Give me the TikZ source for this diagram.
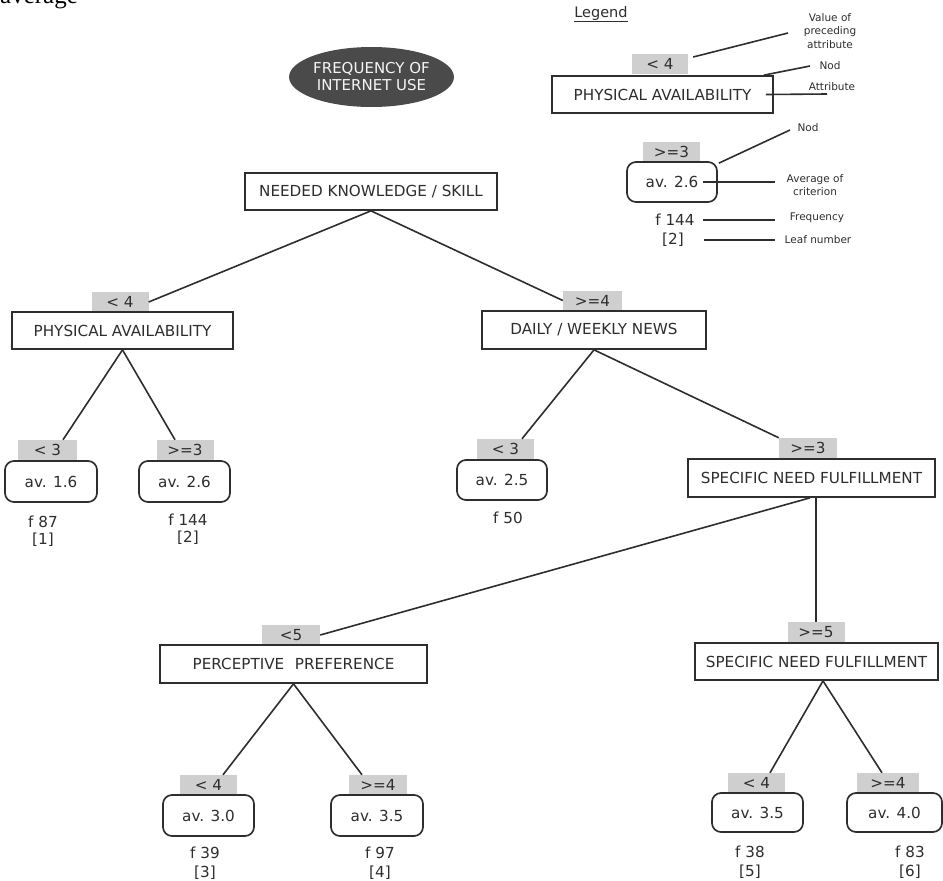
\documentclass[tikz,border=0pt]{standalone}
\usepackage{fontspec}
\setmainfont{DejaVu Sans}
\newfontfamily\serifav{Liberation Serif}
\usetikzlibrary{shapes.geometric}
\definecolor{ink}{HTML}{2E2E2E}
\definecolor{condgray}{HTML}{CFCFCF}
\definecolor{rootfill}{HTML}{4A4A4A}
\begin{document}
\begin{tikzpicture}[x=1pt,y=-1pt,
  every node/.style={font=\fontsize{15.2}{17}\selectfont, text=ink},
  attr/.style={draw=ink, line width=1.7pt, rectangle, minimum height=37pt, inner sep=0pt},
  leafbox/.style={draw=ink, line width=1.7pt, rounded corners=9pt, minimum width=91pt, minimum height=41pt, inner sep=0pt},
  cond/.style={fill=condgray, minimum width=57pt, minimum height=20pt, inner sep=0pt},
  info/.style={inner sep=0pt},
  small/.style={font=\fontsize{10.5}{13.5}\selectfont, align=center, inner sep=0pt},
  edge/.style={draw=ink, line width=1.6pt}]
\useasboundingbox (0,0) rectangle (943,881);
\fill[white] (0,0) rectangle (943,881);

% cut-off caption text at top
\node[anchor=base west, inner sep=0pt, font=\serifav\fontsize{25}{28}\selectfont, text=black] (avg) at (0,3.5) {average};

% root
\node[ellipse, fill=rootfill, minimum width=163pt, minimum height=60pt, inner sep=0pt, align=center,
      text=white!92!gray, font=\fontsize{15}{17}\selectfont] (root) at (371.5,77) {FREQUENCY OF\\INTERNET USE};

% level 1
\node[attr, minimum width=252pt] (nks) at (371,191.5) {NEEDED KNOWLEDGE / SKILL};

\node[cond] (c1) at (120,302) {< 4};
\node[attr, minimum width=221pt] (pa) at (122.5,330.5) {PHYSICAL AVAILABILITY};

\node[cond, minimum width=59pt] (c4) at (592.5,300.5) {>=4};
\node[attr, minimum width=224pt, minimum height=38pt] (dwn) at (594,330) {DAILY / WEEKLY NEWS};

% leaves under PHYSICAL AVAILABILITY
\node[cond, minimum width=59pt] (c2) at (47.5,450) {< 3};
\node[leafbox, minimum width=92pt] (l1) at (51,481.5) {av. 1.6};
\node[info] (f1) at (43,522) {f 87};
\node[info] (n1) at (43,540) {[1]};

\node[cond] (c3) at (185,450) {>=3};
\node[leafbox] (l2) at (184.5,481.5) {av. 2.6};
\node[info] (f2) at (188,520) {f 144};
\node[info] (n2) at (188,538) {[2]};

% under DAILY / WEEKLY NEWS
\node[cond] (c5) at (505.5,449) {< 3};
\node[leafbox, minimum width=90pt, minimum height=40pt] (l3) at (502,480) {av. 2.5};
\node[info] (f3) at (508,518) {f 50};

\node[cond, minimum width=58pt] (c6) at (808,448) {>=3};
\node[attr, minimum width=247pt, minimum height=38pt] (snf1) at (811.5,478) {SPECIFIC NEED FULFILLMENT};

% under SPECIFIC NEED FULFILLMENT
\node[cond, minimum width=58pt] (c7) at (291,635) {<5};
\node[attr, minimum width=267pt, minimum height=38pt] (pp) at (293.5,664) {PERCEPTIVE\hspace{0.7em}PREFERENCE};

\node[cond] (c10) at (816,632) {>=5};
\node[attr, minimum width=243pt] (snf2) at (816.5,661.5) {SPECIFIC NEED FULFILLMENT};

% leaves under PERCEPTIVE PREFERENCE
\node[cond] (c8) at (208.5,785) {< 4};
\node[leafbox] (l4) at (208.5,815.5) {av. 3.0};
\node[info] (f4) at (205,853) {f 39};
\node[info] (n4) at (205,873) {[3]};

\node[cond, minimum width=58pt] (c9) at (378,785) {>=4};
\node[leafbox, minimum width=92pt] (l5) at (377,815.5) {av. 3.5};
\node[info] (f5) at (380,853) {f 97};
\node[info] (n5) at (380,873) {[4]};

% leaves under SPECIFIC NEED FULFILLMENT (2)
\node[cond] (c11) at (756.5,783) {< 4};
\node[leafbox, minimum height=39pt] (l6) at (757.5,812.5) {av. 3.5};
\node[info] (f6) at (750,852) {f 38};
\node[info] (n6) at (750,872) {[5]};

\node[cond, minimum width=62pt] (c12) at (888,783) {>=4};
\node[leafbox, minimum width=95pt, minimum height=39pt] (l7) at (894.5,812.5) {av. 4.0};
\node[info] (f7) at (910,852) {f 83};
\node[info] (n7) at (910,872) {[6]};

% tree connectors
\draw[edge] (nks.south) -- (c1.east);
\draw[edge] (nks.south) -- (c4.west);
\draw[edge] (pa.south) -- ([xshift=15.5pt]c2.north);
\draw[edge] (pa.south) -- ([xshift=-10pt]c3.north);
\draw[edge] (dwn.south) -- ([xshift=16.5pt]c5.north);
\draw[edge] (dwn.south) -- (c6.north west);
\draw[edge] ([xshift=-1.5pt]snf1.south) -- (c7.east);
\draw[edge] ([xshift=4.5pt]snf1.south) -- (c10.north);
\draw[edge] (pp.south) -- ([xshift=14.5pt]c8.north);
\draw[edge] (pp.south) -- ([xshift=-16pt]c9.north);
\draw[edge] ([xshift=6.5pt]snf2.south) -- ([xshift=13.5pt]c11.north);
\draw[edge] ([xshift=6.5pt]snf2.south) -- ([xshift=-6pt]c12.north);

% legend
\node[info, font=\fontsize{14.5}{16}\selectfont] (leg) at (601,14) {\underline{Legend}};
\node[cond, minimum width=56pt] (lc) at (660,64) {< 4};
\node[attr, minimum width=221pt] (lpa) at (662.5,94.5) {PHYSICAL AVAILABILITY};
\node[cond] (lc2) at (671.5,152) {>=3};
\node[leafbox, minimum width=90pt, minimum height=40pt] (lleaf) at (672,182) {av. 2.6};
\node[info] (lf) at (675,220) {f 144};
\node[info] (ln) at (673,240) {[2]};

\node[small] (tval) at (830,31) {Value of\\preceding\\attribute};
\node[small] (tnod1) at (830,66) {Nod};
\node[small] (tattr) at (832,87) {Attribute};
\node[small] (tnod2) at (808,128) {Nod};
\node[small] (tavg) at (815,185) {Average of\\criterion};
\node[small] (tfreq) at (817,218) {Frequency};
\node[small] (tleaf) at (818,240) {Leaf number};

\coordinate (e1) at (788,33);
\coordinate (e2) at (810,66);
\coordinate (e3) at (827,94);
\coordinate (e4) at (790,130);
\coordinate (e5) at (775,182);
\coordinate (e6) at (775,220);
\coordinate (e7) at (775,240);

\draw[edge] ([xshift=5pt,yshift=7pt]lc.east) -- (e1);
\draw[edge] ([xshift=-10pt]lpa.north east) -- (e2);
\draw[edge] ([xshift=-8pt]lpa.east) -- (e3);
\draw[edge] ([xshift=1pt,yshift=-2pt]lleaf.north east) -- (e4);
\draw[edge] ([xshift=-15pt]lleaf.east) -- (e5);
\draw[edge] ([xshift=8pt]lf.east) -- (e6);
\draw[edge] ([xshift=20pt]ln.east) -- (e7);
\end{tikzpicture}
\end{document}
